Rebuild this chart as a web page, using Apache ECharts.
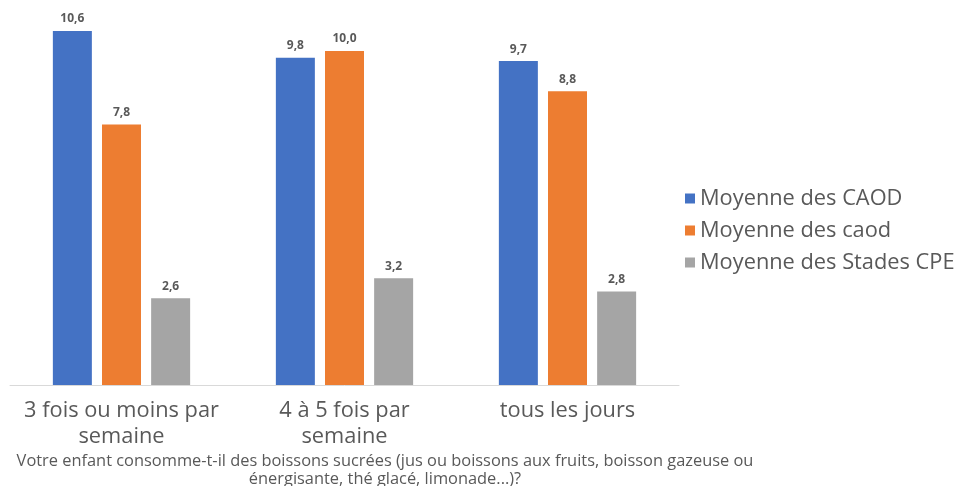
<!DOCTYPE html>
<html>
<head>
<meta charset="utf-8">
<script src="https://cdn.jsdelivr.net/npm/echarts@6/dist/echarts.min.js"></script>
<style>
  html, body { margin: 0; padding: 0; background: #fff; }
  #chart { width: 962px; height: 486px; }
</style>
</head>
<body>
<div id="chart"></div>
<script>
// Categories (frequency of sugary drink consumption)
const categories = ['3 fois ou moins par\nsemaine', '4 à 5 fois par\nsemaine', 'tous les jours'];

// Series names
const seriesNames = ['Moyenne des CAOD', 'Moyenne des caod', 'Moyenne des Stades CPE'];

// Series values
const caodUpper = [10.6, 9.8, 9.7];
const caodLower = [7.8, 10.0, 8.8];
const stadesCPE = [2.6, 3.2, 2.8];

const colors = ['#4472C4', '#ED7D31', '#A5A5A5'];
const fontFamily = '"Open Sans", "Liberation Sans", sans-serif';

const chart = echarts.init(document.getElementById('chart'));

const labelCfg = {
  show: true,
  position: 'top',
  distance: 6,
  color: '#595959',
  fontSize: 12,
  fontWeight: 'bold',
  fontFamily: fontFamily,
  formatter: p => p.value.toFixed(1).replace('.', ',')
};

function makeSeries(name, data, color) {
  return {
    name: name,
    type: 'bar',
    data: data,
    barWidth: 39,
    barGap: '26%',
    itemStyle: { color: color },
    label: labelCfg
  };
}

chart.setOption({
  animation: false,
  color: colors,
  grid: { left: 10, right: 283, top: 11, bottom: 101, containLabel: false },
  legend: {
    orient: 'vertical',
    left: 680,
    top: 182,
    itemWidth: 10,
    itemHeight: 10,
    itemGap: 9,
    icon: 'rect',
    textStyle: { color: '#595959', fontSize: 21.8, fontFamily: fontFamily, lineHeight: 23 },
    data: seriesNames
  },
  xAxis: {
    type: 'category',
    data: categories,
    axisLine: { lineStyle: { color: '#D9D9D9', width: 1 } },
    axisTick: { show: false },
    axisLabel: {
      color: '#595959',
      fontSize: 21.8,
      fontFamily: fontFamily,
      margin: 13,
      lineHeight: 26,
      interval: 0
    }
  },
  yAxis: {
    type: 'value',
    min: 0,
    max: 11.2,
    show: false,
    splitLine: { show: false }
  },
  graphic: [{
    type: 'text',
    x: 385,
    y: 452,
    style: {
      text: 'Votre enfant consomme-t-il des boissons sucrées (jus ou boissons aux fruits, boisson gazeuse ou\nénergisante, thé glacé, limonade...)?',
      align: 'center',
      verticalAlign: 'top',
      fill: '#595959',
      font: '16.4px ' + fontFamily,
      lineHeight: 18
    }
  }],
  series: [
    makeSeries(seriesNames[0], caodUpper, colors[0]),
    makeSeries(seriesNames[1], caodLower, colors[1]),
    makeSeries(seriesNames[2], stadesCPE, colors[2])
  ]
});
</script>
</body>
</html>
